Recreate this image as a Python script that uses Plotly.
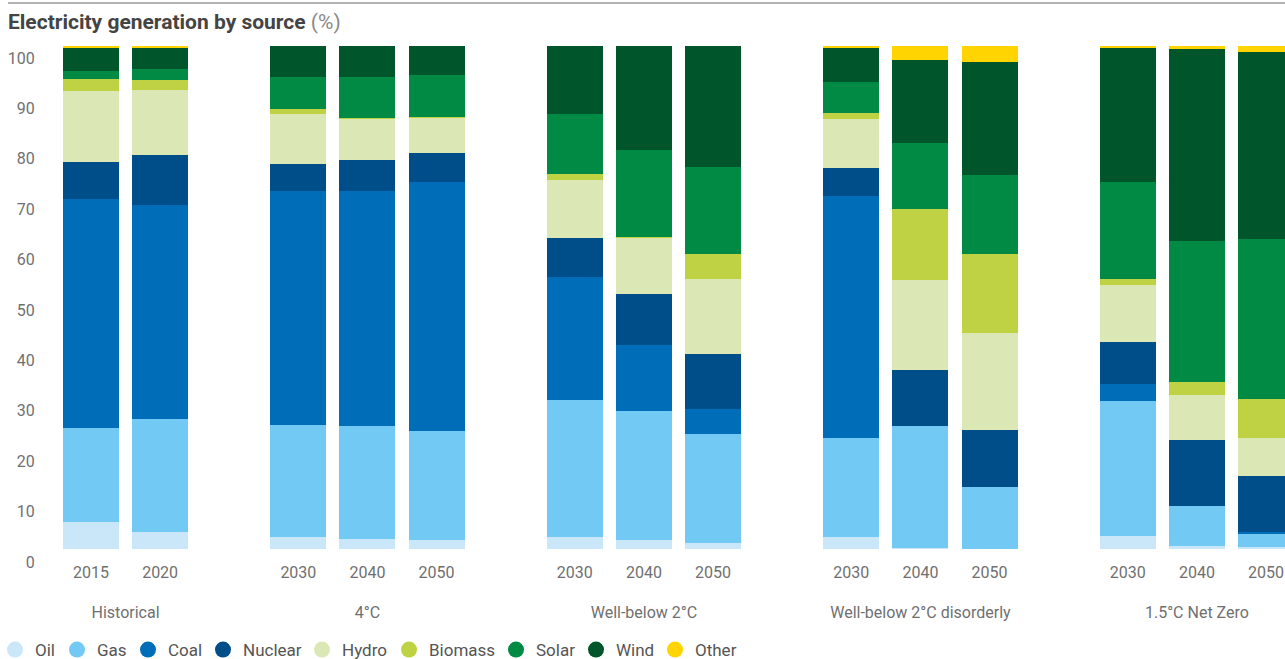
import plotly.graph_objects as go

groups = ["Historical", "4°C", "Well-below 2°C", "Well-below 2°C disorderly", "1.5°C Net Zero"]
years = [["2015", "2020"], ["2030", "2040", "2050"], ["2030", "2040", "2050"],
         ["2030", "2040", "2050"], ["2030", "2040", "2050"]]

sources = ["Oil", "Gas", "Coal", "Nuclear", "Hydro", "Biomass", "Solar", "Wind", "Other"]
colors = ["#c9e7f8", "#72caf4", "#006db8", "#004e89", "#dbe7b5", "#bed243", "#008a44", "#00552a", "#ffd400"]

# shares (%) per bar, in bar order: Historical 2015, 2020 | 4°C 2030-2050 | WB2 | WB2 disorderly | 1.5 NZ
oil     = [5.3, 3.3,  2.3, 1.9, 1.7,   2.3, 1.7, 1.2,   2.3, 0.2, 0.1,   2.5, 0.5, 0.3]
gas     = [18.8, 22.6, 22.4, 22.6, 21.7, 27.4, 25.8, 21.6, 19.8, 24.3, 12.3, 27.0, 8.0, 2.8]
coal    = [45.5, 42.5, 46.5, 46.7, 49.6, 24.4, 13.1, 5.0,  48.1, 0.0, 0.0,   3.4, 0.0, 0.2]
nuclear = [7.4, 9.9,  5.4, 6.2, 5.7,   7.8, 10.1, 11.0, 5.5, 11.0, 11.2, 8.3, 13.1, 11.3]
hydro   = [14.0, 12.95, 9.9, 8.1, 7.0, 11.4, 11.2, 14.9, 9.8, 18.0, 19.4, 11.2, 9.1, 7.5]
biomass = [2.4, 1.95, 1.0, 0.2, 0.1,   1.3, 0.2, 5.0,   1.2, 14.1, 15.7, 1.3, 2.6, 7.8]
solar   = [1.6, 2.2,  6.3, 8.1, 8.4,   11.9, 17.3, 17.2, 6.1, 13.1, 15.7, 19.3, 27.9, 31.8]
wind    = [4.8, 4.4,  6.2, 6.2, 5.8,   13.5, 20.6, 24.1, 7.0, 16.5, 22.4, 26.8, 38.2, 37.1]
other   = [0.2, 0.2,  0.0, 0.0, 0.0,   0.0, 0.0, 0.0,   0.2, 2.8, 3.2,   0.2, 0.6, 1.2]

y_ticks = [0, 10, 20, 30, 40, 50, 60, 70, 80, 90, 100]

series = [oil, gas, coal, nuclear, hydro, biomass, solar, wind, other]

# x positions: one empty slot between groups
pos, tick_text, group_centers = [], [], []
p = 0
for g, ys in zip(groups, years):
    start = p
    for y in ys:
        pos.append(p)
        tick_text.append(y)
        p += 1
    group_centers.append((start + p - 1) / 2)
    p += 1

W, H = 1285, 659
ml, mr, mt, mb = 45, 0, 46, 97
plot_w = W - ml - mr
plot_h = H - mt - mb
px_per_unit = 69.12
x0 = -(91 - ml) / px_per_unit
x1 = x0 + plot_w / px_per_unit
bar_bottom_px = 549            # pixel of value 0 for bars
label_px_per_unit = 5.04       # tick-label scale
tick_font = dict(family="Roboto", size=16, color="#707070")

# legend entry text start positions (px), one legend box per entry
legend_text_px = [33, 95, 166, 241, 340, 427, 534, 614, 693]

fig = go.Figure()
for name, vals, col in zip(sources, series, colors):
    fig.add_trace(go.Bar(x=pos, y=vals, name=name, marker=dict(color=col, line=dict(width=0)),
                         width=0.81, showlegend=False, hoverinfo="skip"))
legend_layout = {}
for i, (name, col) in enumerate(zip(sources, colors)):
    key = "legend" if i == 0 else f"legend{i + 1}"
    fig.add_trace(go.Scatter(x=[None], y=[None], mode="markers", name=name, legend=key,
                             marker=dict(size=16, color=col, symbol="circle")))
    legend_layout[key] = dict(orientation="h", x=(legend_text_px[i] - 38 - ml) / plot_w, xanchor="left",
                              y=(H - mb - 632) / plot_h, yanchor="top", bgcolor="rgba(0,0,0,0)",
                              font=dict(family="Roboto", size=17, color="#555555"), itemclick=False)
# invisible helper trace so the label subplot (group names, y tick labels) is drawn
fig.add_trace(go.Scatter(x=group_centers, y=[y_ticks[0]] * len(group_centers), xaxis="x2", yaxis="y2",
                         mode="markers", marker=dict(opacity=0), showlegend=False, hoverinfo="skip"))

fig.update_layout(
    width=W, height=H,
    margin=dict(l=ml, r=mr, t=mt, b=mb, autoexpand=False),
    barmode="stack",
    bargap=0,
    plot_bgcolor="rgba(0,0,0,0)", paper_bgcolor="white",
    font=dict(family="Roboto", size=16, color="#707070"),
    title=dict(
        text="<b>Electricity generation by source</b> <span style='color:#8a8a8a'>(%)</span>",
        font=dict(family="Roboto", size=21, color="#444444"),
        x=8 / W, xref="container", xanchor="left",
        y=1 - 22 / H, yref="container", yanchor="middle",
    ),
    xaxis=dict(domain=[0, 1], range=[x0, x1], tickvals=pos, ticktext=tick_text, showgrid=False,
               zeroline=False, showline=False, ticks="outside", ticklen=9, anchor="y",
               tickcolor="rgba(0,0,0,0)", tickfont=tick_font),
    yaxis=dict(domain=[(H - mb - bar_bottom_px) / plot_h, 1], range=[0, 100], visible=False,
               showgrid=False, zeroline=False, anchor="x"),
    xaxis2=dict(domain=[0, 1], range=[x0, x1], tickvals=group_centers, ticktext=groups,
                side="bottom", anchor="y2", showgrid=False, zeroline=False, showline=False,
                ticks="outside", ticklen=36, tickcolor="rgba(0,0,0,0)", tickfont=tick_font),
    yaxis2=dict(domain=[0, 1], range=[0, plot_h / label_px_per_unit], tickvals=y_ticks,
                side="left", anchor="x2", showgrid=False, zeroline=False, showline=False,
                ticks="outside", ticklen=6, tickcolor="rgba(0,0,0,0)", tickfont=tick_font),
    shapes=[dict(type="line", xref="paper", yref="paper",
                 x0=(8 - ml) / plot_w, x1=1,
                 y0=1 + (mt - 3) / plot_h, y1=1 + (mt - 3) / plot_h,
                 line=dict(color="#999999", width=1.5))],
    **legend_layout,
)

fig.write_html("out.html", config={"displayModeBar": False},
               post_script="document.body.style.margin='0';")
